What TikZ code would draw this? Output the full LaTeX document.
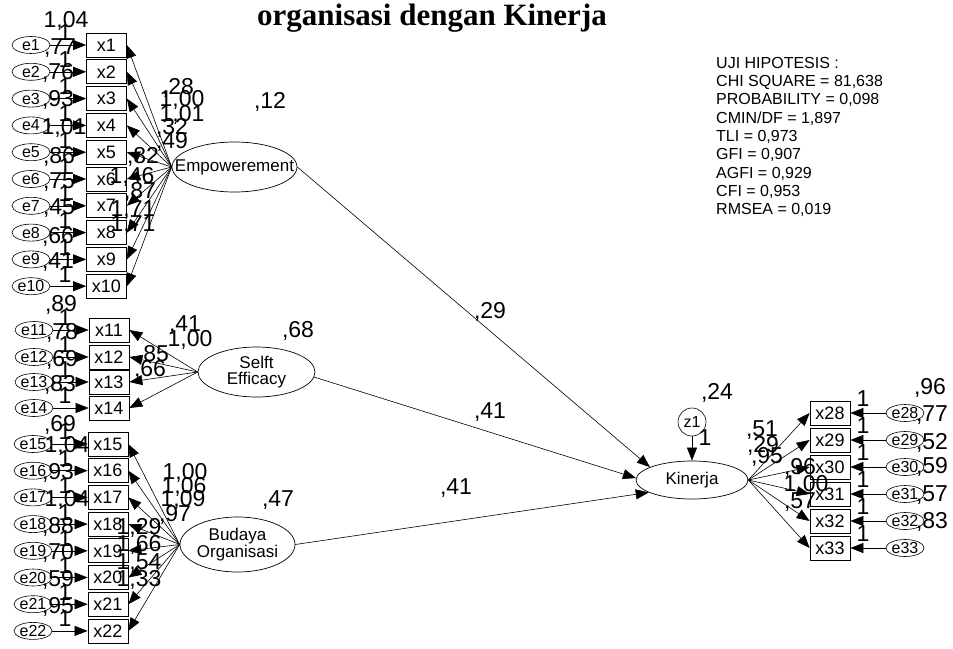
\documentclass[tikz,border=0pt]{standalone}
\usepackage{fontspec}
\setmainfont{Liberation Serif}
\newfontfamily\amosfont{Liberation Sans}
\usetikzlibrary{arrows.meta,shapes.geometric}

\tikzset{
  obs/.style={draw, line width=0.7pt, minimum width=40pt, minimum height=24pt, inner sep=0pt, font=\amosfont\fontsize{18}{18}\selectfont},
  err/.style={draw, ellipse, line width=0.6pt, minimum width=38pt, minimum height=17pt, inner sep=0pt, font=\amosfont\fontsize{16}{16}\selectfont},
  lat/.style={draw, ellipse, line width=0.7pt, inner sep=0pt, align=center, font=\amosfont\fontsize{17}{15.5}\selectfont},
  est/.style={inner sep=0pt, font=\amosfont\fontsize{23}{23}\selectfont},
  arr/.style={line width=0.6pt, -{Triangle[length=13pt,width=10pt]}}
}

\begin{document}
\begin{tikzpicture}[x=1pt, y=-1pt]
        \useasboundingbox (0,0) rectangle (953,648);

        % title and fit indices
        \node[font=\fontsize{31}{31}\selectfont\bfseries, anchor=base] (title) at (432,25) {organisasi dengan Kinerja};
        \node[anchor=north west, align=left, inner sep=0pt, font=\amosfont\fontsize{16}{18.3}\selectfont] (fit) at (716,57)
            {UJI HIPOTESIS :\\CHI SQUARE = 81,638\\PROBABILITY = 0,098\\CMIN/DF = 1,897\\TLI = 0,973\\GFI = 0,907\\AGFI = 0,929\\CFI = 0,953\\RMSEA = 0,019};

        % latent variables
        \node[lat, minimum width=125pt, minimum height=50pt] (emp) at (234.5,167) {\makebox[0pt]{Empowerement}};
        \node[lat, minimum width=117pt, minimum height=50pt] (self) at (256.5,372) {Selft\\Efficacy};
        \node[lat, minimum width=115pt, minimum height=55pt] (bud) at (237.5,544.5) {Budaya\\Organisasi};
        \node[lat, minimum width=112pt, minimum height=38pt] (kin) at (692,480) {Kinerja};
        \node[err, circle, minimum size=28pt] (z1) at (692,422) {z1};

        % indicators of Empowerement
        \foreach \i in {1,...,10} {
            \pgfmathsetmacro\yy{45+26.8*(\i-1)}
            \node[err] (e\i) at (31,\yy) {e\i};
            \node[obs] (x\i) at (106.5,\yy) {x\i};
            \node[est] (one\i) at (65,{\yy-12}) {1};
            \draw[arr] (e\i) -- (x\i);
            \draw[arr] (emp.west) -- (x\i.east);
        }

        % indicators of Selft Efficacy
        \foreach \i/\yy in {11/330, 12/357, 13/382, 14/408} {
            \node[err] (e\i) at (34,\yy) {e\i};
            \node[obs] (x\i) at (109,\yy) {x\i};
            \node[est] (one\i) at (65,{\yy-12}) {1};
            \draw[arr] (e\i) -- (x\i);
            \draw[arr] (self.west) -- (x\i.east);
        }

        % indicators of Budaya Organisasi
        \foreach \i in {15,...,22} {
            \pgfmathsetmacro\yy{444+26.7*(\i-15)}
            \node[err] (e\i) at (33,\yy) {e\i};
            \node[obs] (x\i) at (108,\yy) {x\i};
            \node[est] (one\i) at (65,{\yy-12}) {1};
            \draw[arr] (e\i) -- (x\i);
            \draw[arr] (bud.west) -- (x\i.east);
        }

        % indicators of Kinerja
        \foreach \i in {28,...,33} {
            \pgfmathsetmacro\yy{413+27*(\i-28)}
            \node[err] (e\i) at (905,\yy) {e\i};
            \node[obs] (x\i) at (830,\yy) {x\i};
            \node[est] (one\i) at (863,{\yy-14}) {1};
            \draw[arr] (e\i) -- (x\i);
            \draw[arr] (kin.east) -- (x\i.west);
        }

        % structural paths
        \draw[arr] (emp.east) -- (kin.163);
        \draw[arr] (self.-5) -- (kin.178);
        \draw[arr] (bud.east) -- (kin.196);
        \draw[arr] (z1) -- (kin);

        % variances
        \foreach \p/\q/\t [count=\k] in {66/21/{1,04}, 60/48/{,77}, 58/73/{,76}, 58/100/{,93}, 64/128/{1,01}, 59/157/{,86}, 59/182/{,75}, 59/208/{,45}, 58/237/{,66}, 58/262/{,41}, 61/305/{,89}, 62/333/{,78}, 62/360/{,69}, 60/385/{,83}, 60/425/{,69}, 67/446/{1,04}, 58/473/{,93}, 67/500/{1,04}, 58/527/{,88}, 58/553/{,70}, 58/580/{,59}, 58/607/{,95}, 930/388/{,96}, 932/415/{,77}, 932/443/{,52}, 932/467/{,59}, 932/495/{,57}, 932/522/{,83}, 270/102/{,12}, 298/331/{,68}, 278/500/{,47}, 717/393/{,24}}
            \node[est] (v\k) at (\p,\q) {\t};

        % loadings and path coefficients
        \foreach \p/\q/\t [count=\k] in {178/88/{,28}, 182/100/{1,00}, 182/115/{1,01}, 172/128/{,32}, 172/142/{,49}, 143/157/{,82}, 132/177/{1,46}, 140/192/{,87}, 133/210/{1,71}, 133/225/{1,71}, 185/325/{,41}, 190/340/{1,00}, 153/355/{,85}, 150/370/{,66}, 185/473/{1,00}, 184/487/{1,06}, 183/500/{1,09}, 175/515/{,97}, 139/528/{1,29}, 139/545/{1,66}, 139/563/{1,54}, 139/580/{1,33}, 762/430/{,51}, 763/446/{,29}, 767/457/{,95}, 800/468/{,96}, 806/485/{1,00}, 800/502/{,57}, 705/438/{1}, 490/312/{,29}, 490/412/{,41}, 456/488/{,41}}
            \node[est] (l\k) at (\p,\q) {\t};
\end{tikzpicture}
\end{document}
